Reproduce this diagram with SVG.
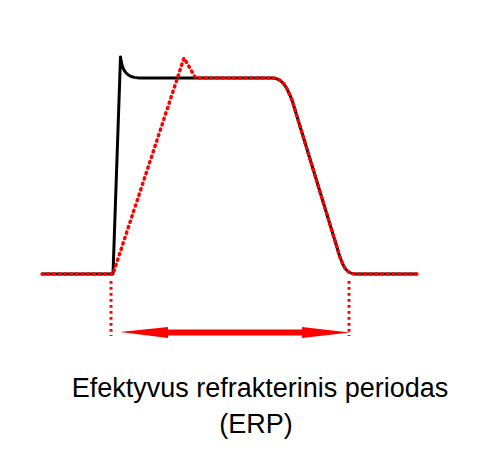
<svg xmlns="http://www.w3.org/2000/svg" width="479" height="454" viewBox="0 0 479 454">
<style>
.black{fill:none;stroke:#000;stroke-width:3;stroke-linejoin:round}
.reddot{fill:none;stroke:#ff0000;stroke-width:3.5;stroke-linecap:round;stroke-dasharray:1.2 4.5}
.guide{fill:none;stroke:#ff0000;stroke-width:3;stroke-dasharray:2.8 3.2}
.label{font-family:"Liberation Sans",Arial,sans-serif;font-size:27px;fill:#000;text-anchor:middle}
</style>
<rect width="479" height="454" fill="#fff"/>
<g id="action-potential">
<path class="black" d="M42,274 L113,274 L120.5,57 C122,70 126,78 140,78 L272,78 C283,78 287,88 292,100 L339,254 C343,266 346,274 356,274 L417,274"/>
</g>
<g id="erp-trace">
<path class="reddot" d="M42,274 L113,274 L184,58 L195,77 C197,78 198,78 200,78 L272,78 C283,78 287,88 292,100 L339,254 C343,266 346,274 356,274 L417,274"/>
</g>
<g id="connectors">
<line class="guide" x1="111" y1="281" x2="111" y2="336"/>
<line class="guide" x1="349" y1="281" x2="349" y2="336"/>
<path id="erp-arrow" fill="#ff0000" d="M120,332 L168,327 L168,329.5 L302,329.5 L302,327 L350,332.5 L302,338 L302,335.5 L168,335.5 L168,338 Z"/>
</g>
<g id="caption">
<text class="label" x="260" y="397">Efektyvus refrakterinis periodas</text>
<text class="label" x="256" y="433">(ERP)</text>
</g>
</svg>
